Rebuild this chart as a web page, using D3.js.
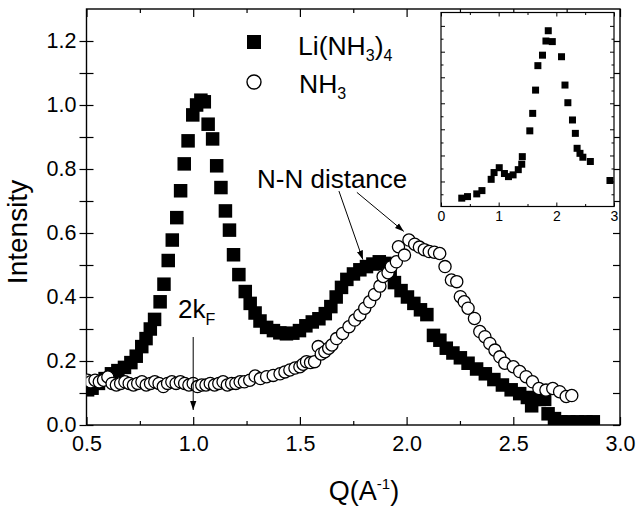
<!DOCTYPE html>
<html><head><meta charset="utf-8">
<script src="https://cdn.jsdelivr.net/npm/d3@7"></script>
<style>
body{margin:0;background:#fff}
text{font-family:"Liberation Sans",Arial,Helvetica,sans-serif;fill:#000}
</style>
</head><body>
<svg id="c" width="636" height="508"></svg>
<script>
// ---- Data: Li(NH3)4 (filled squares) ----
const liQ = [0.505,0.526,0.556,0.587,0.617,0.647,0.678,0.708,0.733,0.759,0.779,0.799,0.819,0.845,0.863,0.883,0.902,0.923,0.941,0.958,0.976,0.998,1.016,1.036,1.052,1.07,1.091,1.11,1.13,1.151,1.17,1.189,1.214,1.244,1.267,1.29,1.313,1.344,1.376,1.406,1.437,1.467,1.498,1.528,1.558,1.589,1.619,1.645,1.67,1.695,1.72,1.751,1.781,1.812,1.842,1.872,1.898,1.923,1.943,1.974,2.004,2.034,2.065,2.095,2.126,2.156,2.186,2.217,2.252,2.288,2.328,2.369,2.409,2.449,2.49,2.53,2.566,2.586,2.622,2.647,2.663,2.693,2.723,2.76,2.80,2.84,2.875];
const liI = [0.11,0.115,0.13,0.145,0.16,0.17,0.18,0.195,0.215,0.245,0.27,0.30,0.33,0.385,0.44,0.514,0.578,0.648,0.732,0.816,0.888,0.969,1.0,1.015,1.01,0.94,0.894,0.81,0.742,0.669,0.609,0.532,0.47,0.417,0.38,0.35,0.325,0.305,0.295,0.288,0.285,0.287,0.295,0.31,0.322,0.332,0.348,0.37,0.40,0.43,0.455,0.472,0.485,0.495,0.503,0.51,0.505,0.48,0.445,0.42,0.40,0.38,0.36,0.345,0.28,0.265,0.24,0.225,0.21,0.193,0.175,0.16,0.142,0.125,0.11,0.098,0.086,0.06,0.08,0.08,0.035,0.02,0.01,0.01,0.01,0.01,0.01];

// ---- Data: NH3 (open circles) ----
const nhQ = [0.505,0.52,0.54,0.56,0.58,0.60,0.62,0.64,0.66,0.68,0.70,0.72,0.74,0.76,0.78,0.80,0.82,0.84,0.86,0.88,0.90,0.92,0.94,0.96,0.98,1.00,1.02,1.04,1.06,1.08,1.10,1.12,1.14,1.16,1.18,1.20,1.22,1.24,1.265,1.29,1.315,1.344,1.375,1.407,1.43,1.453,1.477,1.50,1.515,1.531,1.55,1.569,1.586,1.60,1.617,1.635,1.65,1.672,1.70,1.73,1.757,1.781,1.804,1.827,1.85,1.875,1.89,1.913,1.928,1.952,1.962,1.99,2.011,2.038,2.06,2.083,2.106,2.13,2.155,2.18,2.21,2.235,2.252,2.27,2.288,2.318,2.343,2.367,2.39,2.414,2.437,2.46,2.50,2.53,2.56,2.59,2.62,2.653,2.685,2.717,2.748,2.774];
const nhI = [0.14,0.135,0.14,0.135,0.14,0.15,0.13,0.125,0.13,0.135,0.13,0.125,0.13,0.135,0.125,0.13,0.135,0.13,0.12,0.13,0.135,0.13,0.135,0.13,0.125,0.13,0.12,0.125,0.125,0.13,0.125,0.13,0.135,0.125,0.13,0.13,0.135,0.135,0.14,0.153,0.145,0.151,0.155,0.16,0.166,0.172,0.178,0.182,0.19,0.198,0.195,0.198,0.245,0.222,0.229,0.24,0.25,0.27,0.286,0.307,0.328,0.344,0.365,0.385,0.408,0.434,0.464,0.476,0.495,0.51,0.557,0.531,0.578,0.565,0.556,0.548,0.542,0.54,0.536,0.495,0.453,0.448,0.401,0.385,0.365,0.333,0.292,0.276,0.255,0.234,0.213,0.193,0.182,0.167,0.151,0.135,0.114,0.109,0.114,0.104,0.089,0.092];

// ---- Inset data (relative intensity) ----
const insetQ = [0.36,0.46,0.62,0.71,0.87,0.92,1.01,1.10,1.17,1.25,1.34,1.40,1.41,1.54,1.59,1.64,1.68,1.76,1.82,1.86,1.93,2.09,2.15,2.20,2.28,2.33,2.36,2.41,2.46,2.59,2.93];
const insetI = [0.043,0.051,0.065,0.082,0.14,0.175,0.20,0.17,0.154,0.163,0.19,0.218,0.257,0.39,0.48,0.60,0.726,0.78,0.853,0.906,0.85,0.772,0.626,0.535,0.446,0.377,0.30,0.274,0.254,0.232,0.134];

// ---- Ticks ----
const xMajor = [0.5,1.0,1.5,2.0,2.5,3.0];
const xMinor = [0.75,1.25,1.75,2.25,2.75];
const yMajor = [0.0,0.2,0.4,0.6,0.8,1.0,1.2];
const yMinor = [0.1,0.3,0.5,0.7,0.9,1.1];
const insetXMajor = [0,1,2,3];
const insetXMinor = [0.5,1.5,2.5];
const insetYMajor = [0.129,0.263,0.398,0.532,0.666,0.798,0.931];
const insetYMinor = [0.063,0.196,0.33,0.465,0.598,0.732,0.865];

// ---- Annotations (data coordinates) ----
const nnArrows = [
  {q0:1.683,i0:0.731,q1:1.795,i1:0.517},
  {q0:1.767,i0:0.727,q1:1.987,i1:0.605}
];
const kfArrow = {q:1.0,i0:0.275,i1:0.047};

const svg = d3.select("#c");
const L=86.5,R=620,T=9,B=425;
const x = d3.scaleLinear().domain([0.5,3.0]).range([L,R]);
const y = d3.scaleLinear().domain([0,1.3]).range([B,T]);

const defs = svg.append("defs");
defs.append("clipPath").attr("id","clip").append("rect")
  .attr("x",L).attr("y",T).attr("width",R-L).attr("height",B-T);
defs.append("marker").attr("id","ah").attr("viewBox","0 0 10 10")
  .attr("refX",10).attr("refY",5).attr("markerWidth",9).attr("markerHeight",9)
  .attr("markerUnits","userSpaceOnUse").attr("orient","auto")
  .append("path").attr("d","M0,1.5 L10,5 L0,8.5 Z").attr("fill","#000");

function styleAxis(g){
  g.select(".domain").remove();
  g.selectAll("line").attr("stroke","#000").attr("stroke-width",1.2);
  g.selectAll("text").attr("font-size",21.5).attr("font-family",'"Liberation Sans",Arial,sans-serif').attr("fill","#000");
}
// bottom
svg.append("g").attr("transform",`translate(0,${B})`).call(d3.axisTop(x).tickValues(xMajor).tickSize(8).tickFormat("")).call(styleAxis);
svg.append("g").attr("transform",`translate(0,${B})`).call(d3.axisTop(x).tickValues(xMinor).tickSize(4).tickFormat("")).call(styleAxis);
svg.append("g").attr("transform",`translate(0,${B})`).call(d3.axisBottom(x).tickValues(xMajor).tickSize(0).tickPadding(11).tickFormat(d3.format(".1f"))).call(styleAxis);
// top
svg.append("g").attr("transform",`translate(0,${T})`).call(d3.axisBottom(x).tickValues(xMajor).tickSize(8).tickFormat("")).call(styleAxis);
svg.append("g").attr("transform",`translate(0,${T})`).call(d3.axisBottom(x).tickValues(xMinor).tickSize(4).tickFormat("")).call(styleAxis);
// left (in & out)
svg.append("g").attr("transform",`translate(${L},0)`).call(d3.axisLeft(y).tickValues(yMajor).tickSize(7).tickPadding(3).tickFormat(d3.format(".1f"))).call(styleAxis);
svg.append("g").attr("transform",`translate(${L},0)`).call(d3.axisLeft(y).tickValues(yMinor).tickSize(7).tickFormat("")).call(styleAxis);
svg.append("g").attr("transform",`translate(${L},0)`).call(d3.axisRight(y).tickValues(yMajor.concat(yMinor)).tickSize(7).tickFormat("")).call(styleAxis);
// right
svg.append("g").attr("transform",`translate(${R},0)`).call(d3.axisLeft(y).tickValues(yMajor.concat(yMinor)).tickSize(7).tickFormat("")).call(styleAxis);

// frame
svg.append("rect").attr("x",L).attr("y",T).attr("width",R-L).attr("height",B-T)
  .attr("fill","none").attr("stroke","#000").attr("stroke-width",1.4);

// data
const plot = svg.append("g").attr("clip-path","url(#clip)");
const S = 13.5;
plot.selectAll("rect.li").data(liQ.map((q,k)=>[q,liI[k]])).join("rect").attr("class","li")
  .attr("x",d=>x(d[0])-S/2).attr("y",d=>y(d[1])-S/2).attr("width",S).attr("height",S).attr("fill","#000");
plot.selectAll("circle.nh").data(nhQ.map((q,k)=>[q,nhI[k]])).join("circle").attr("class","nh")
  .attr("cx",d=>x(d[0])).attr("cy",d=>y(d[1])).attr("r",6.1)
  .attr("fill","#fff").attr("stroke","#000").attr("stroke-width",1.3);

// legend
svg.append("rect").attr("x",254-7).attr("y",42-7).attr("width",14).attr("height",14).attr("fill","#000");
svg.append("circle").attr("cx",254).attr("cy",82).attr("r",7).attr("fill","#fff").attr("stroke","#000").attr("stroke-width",1.4);
const t1 = svg.append("text").attr("x",298).attr("y",55).attr("font-size",26.5);
t1.append("tspan").text("Li(NH");
t1.append("tspan").attr("font-size",16).attr("dy",6).text("3");
t1.append("tspan").attr("dy",-6).text(")");
t1.append("tspan").attr("font-size",16).attr("dy",6).text("4");
const t2 = svg.append("text").attr("x",299).attr("y",93).attr("font-size",26.5);
t2.append("tspan").text("NH");
t2.append("tspan").attr("font-size",16).attr("dy",6).text("3");

// annotations
svg.append("text").attr("x",x(1.299)).attr("y",y(0.741)).attr("font-size",26).text("N-N distance");
nnArrows.forEach(a=>{
  svg.append("line").attr("x1",x(a.q0)).attr("y1",y(a.i0)).attr("x2",x(a.q1)).attr("y2",y(a.i1))
    .attr("stroke","#000").attr("stroke-width",1).attr("marker-end","url(#ah)");
});
const t3 = svg.append("text").attr("x",x(0.929)).attr("y",y(0.334)).attr("font-size",26);
t3.append("tspan").text("2k");
t3.append("tspan").attr("font-size",16).attr("dy",7).text("F");
svg.append("line").attr("x1",x(kfArrow.q)).attr("y1",y(kfArrow.i0)).attr("x2",x(kfArrow.q)).attr("y2",y(kfArrow.i1))
  .attr("stroke","#000").attr("stroke-width",1).attr("marker-end","url(#ah)");

// axis titles
svg.append("text").attr("transform","translate(27,232) rotate(-90)").attr("text-anchor","middle")
  .attr("font-size",28).text("Intensity");
const xt = svg.append("text").attr("x",364).attr("y",500).attr("text-anchor","middle").attr("font-size",27);
xt.append("tspan").text("Q(A");
xt.append("tspan").attr("font-size",15).attr("dy",-11).text("-1");
xt.append("tspan").attr("dy",11).text(")");

// inset
const xi = d3.scaleLinear().domain([0,3]).range([441,614]);
const yi = d3.scaleLinear().domain([0,1]).range([206.5,12.5]);
svg.append("rect").attr("x",441).attr("y",12.5).attr("width",173).attr("height",194).attr("fill","#fff");
function styleInset(g){
  g.select(".domain").remove();
  g.selectAll("line").attr("stroke","#000").attr("stroke-width",1);
  g.selectAll("text").attr("font-size",14).attr("font-family",'"Liberation Sans",Arial,sans-serif').attr("fill","#000");
}
svg.append("g").attr("transform","translate(0,206.5)").call(d3.axisTop(xi).tickValues(insetXMajor).tickSize(4).tickFormat("")).call(styleInset);
svg.append("g").attr("transform","translate(0,206.5)").call(d3.axisTop(xi).tickValues(insetXMinor).tickSize(2.5).tickFormat("")).call(styleInset);
svg.append("g").attr("transform","translate(0,206.5)").call(d3.axisBottom(xi).tickValues(insetXMajor).tickSize(0).tickPadding(5).tickFormat(d3.format("d"))).call(styleInset);
svg.append("g").attr("transform","translate(0,12.5)").call(d3.axisBottom(xi).tickValues(insetXMajor).tickSize(4).tickFormat("")).call(styleInset);
svg.append("g").attr("transform","translate(0,12.5)").call(d3.axisBottom(xi).tickValues(insetXMinor).tickSize(2.5).tickFormat("")).call(styleInset);
svg.append("g").attr("transform","translate(441,0)").call(d3.axisRight(yi).tickValues(insetYMajor).tickSize(4).tickFormat("")).call(styleInset);
svg.append("g").attr("transform","translate(441,0)").call(d3.axisRight(yi).tickValues(insetYMinor).tickSize(2.5).tickFormat("")).call(styleInset);
svg.append("g").attr("transform","translate(614,0)").call(d3.axisLeft(yi).tickValues(insetYMajor).tickSize(4).tickFormat("")).call(styleInset);
svg.append("g").attr("transform","translate(614,0)").call(d3.axisLeft(yi).tickValues(insetYMinor).tickSize(2.5).tickFormat("")).call(styleInset);
svg.append("rect").attr("x",441).attr("y",12.5).attr("width",173).attr("height",194)
  .attr("fill","none").attr("stroke","#000").attr("stroke-width",1.2);
const S2 = 7;
svg.append("g").selectAll("rect").data(insetQ.map((q,k)=>[q,insetI[k]])).join("rect")
  .attr("x",d=>xi(d[0])-S2/2).attr("y",d=>yi(d[1])-S2/2).attr("width",S2).attr("height",S2).attr("fill","#000");
</script>
</body></html>
